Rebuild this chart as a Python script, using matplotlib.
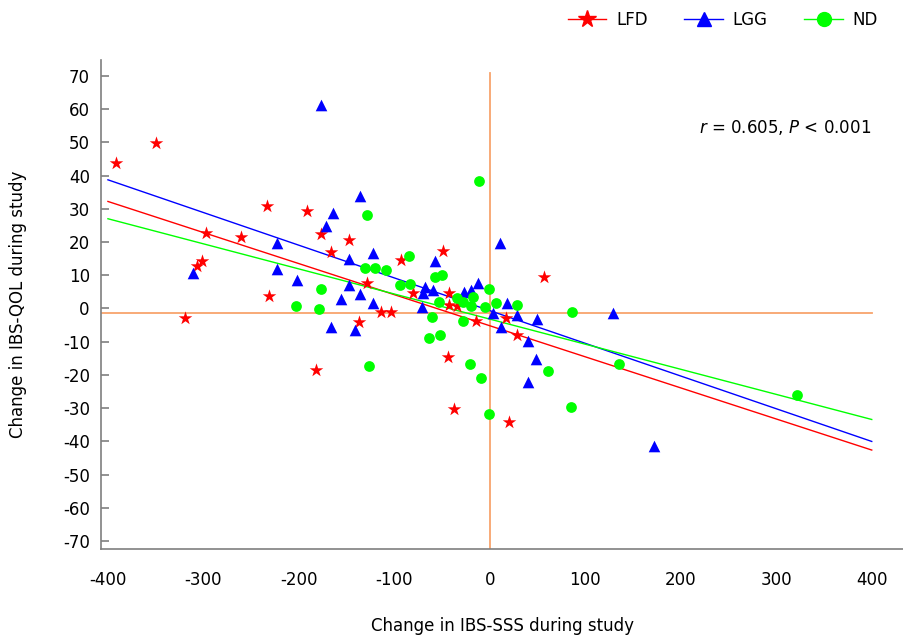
import matplotlib
matplotlib.use('Agg')
import matplotlib.pyplot as plt
from matplotlib.lines import Line2D
import numpy as np

# data
lfd_x = [-391.6, -349.7, -297.4, -306.5, -301.9, -319.4, -260.7, -233.5, -231.4, -191.9,
         -177.3, -166.2, -147.3, -93.2, -49.5, -128.5, -80.3, -43.2, -43.2, -34.9,
         -114.4, -103.7, -136.9, -14.7, 16.8, -43.7, -182.2, -37.7, 20.5, 56.5, 28.0]
lfd_y = [43.8, 49.8, 22.7, 12.9, 14.4, -2.8, 21.5, 30.9, 3.8, 29.4,
         22.3, 16.9, 20.6, 14.6, 17.3, 7.8, 4.6, 4.6, 1.0, 0.8,
         -1.1, -1.0, -4.2, -3.8, -2.8, -14.5, -18.5, -30.3, -34.3, 9.6, -8.0]

lgg_x = [-311.3, -223.4, -223.4, -201.8, -177.3, -136.1, -164.1, -171.7, -122.2, -147.3,
         -57.6, 10.5, -147.3, -156.4, -136.1, -122.2, -166.2, -141.7, -68.1, -69.8,
         -59.4, -70.9, -27.2, -19.9, -12.2, 3.5, 11.2, 18.1, 28.0, 49.5,
         39.5, 47.9, 39.5, 129.1, 171.7]
lgg_y = [10.6, 19.8, 11.8, 8.7, 61.3, 33.7, 28.7, 24.8, 16.8, 14.8,
         14.3, 19.6, 7.1, 2.8, 4.4, 1.6, -5.5, -6.5, 6.4, 4.8,
         5.6, 0.5, 5.1, 5.6, 7.8, -1.4, -5.7, 1.6, -2.0, -3.3,
         -9.7, -15.3, -22.0, -1.5, -41.3]

nd_x = [-202.6, -11.5, -128.5, -84.5, -130.9, -120.4, -108.9, -57.6, -49.9, -94.2,
        -83.8, -177.3, -179.0, -53.4, -34.9, -27.9, -18.1, -20.2, -5.2, -1.0,
        6.3, -60.4, -27.7, -63.6, -52.4, -20.9, -9.4, -126.4, -0.7, 28.0,
        86.2, 135.1, 61.0, 84.8, 321.2]
nd_y = [0.8, 38.4, 28.0, 15.8, 12.3, 12.3, 11.6, 9.6, 10.1, 7.1,
        7.3, 5.8, -0.2, 1.9, 3.1, 2.0, 3.6, 0.8, 0.3, 5.9,
        1.6, -2.5, -3.7, -9.0, -8.0, -16.7, -21.0, -17.3, -31.8, 1.0,
        -1.0, -16.7, -18.7, -29.6, -26.1]

# regression lines (slope, intercept) as drawn in the reference
fit_slope = {'LFD': -0.0935, 'LGG': -0.0984, 'ND': -0.0755}
fit_intercept = {'LFD': -5.2, 'LGG': -0.65, 'ND': -3.2}
fit_range = [-400, 400]

x_ticks = [-400, -300, -200, -100, 0, 100, 200, 300, 400]
y_ticks = list(range(-70, 80, 10))

colors = {'LFD': '#FF0000', 'LGG': '#0000FF', 'ND': '#00FF00'}
ref_color = '#F8A46C'
spine_color = '#7F7F7F'

fig = plt.figure(figsize=(9.04, 6.37), dpi=100)
ax = fig.add_axes([0.1117, 0.138, 0.888, 0.768])

ax.set_xlim(-407.3, 433.5)
ax.set_ylim(-72.4, 74.8)

# reference lines
ax.plot([0, 0], [-72.4, 71], color=ref_color, lw=1.3, zorder=1)
ax.plot([-407.3, 400], [-1.3, -1.3], color=ref_color, lw=1.3, zorder=1)

# fitted lines
xs = np.array(fit_range)
for g in ['LFD', 'LGG', 'ND']:
    ax.plot(xs, fit_slope[g] * xs + fit_intercept[g], color=colors[g], lw=1, zorder=2)

ax.scatter(lfd_x, lfd_y, marker='*', s=105, color=colors['LFD'], linewidths=0, zorder=3)
ax.scatter(lgg_x, lgg_y, marker='^', s=70, color=colors['LGG'], linewidths=0, zorder=3)
ax.scatter(nd_x, nd_y, marker='o', s=60, color=colors['ND'], linewidths=0, zorder=3)

for s in ['top', 'right']:
    ax.spines[s].set_visible(False)
for s in ['left', 'bottom']:
    ax.spines[s].set_color(spine_color)
    ax.spines[s].set_linewidth(1.2)

ax.set_yticks(y_ticks)
ax.set_yticklabels([str(v) for v in y_ticks])
ax.tick_params(axis='y', direction='in', length=6, width=1.2, color=spine_color,
               labelsize=12, pad=8)
ax.set_xticks(x_ticks)
ax.set_xticklabels([str(v) for v in x_ticks])
ax.tick_params(axis='x', length=0, labelsize=12, pad=16)

ax.set_xlabel('Change in IBS-SSS during study', fontsize=12, labelpad=20)
ax.set_ylabel('Change in IBS-QOL during study', fontsize=12, labelpad=26)

ax.text(0.96, 0.861, r'$r$ = 0.605, $P$ < 0.001', transform=ax.transAxes,
        ha='right', va='center', fontsize=12)

handles = [
    Line2D([], [], color=colors['LFD'], marker='*', markersize=13, lw=1),
    Line2D([], [], color=colors['LGG'], marker='^', markersize=10, lw=1),
    Line2D([], [], color=colors['ND'], marker='o', markersize=10, lw=1),
]
fig.legend(handles, ['LFD', 'LGG', 'ND'], loc='upper right', bbox_to_anchor=(0.988, 1.006),
           ncol=3, frameon=False, fontsize=12, handlelength=2.3, columnspacing=2.2,
           handletextpad=0.6)

fig.savefig('out.png', dpi=100)
